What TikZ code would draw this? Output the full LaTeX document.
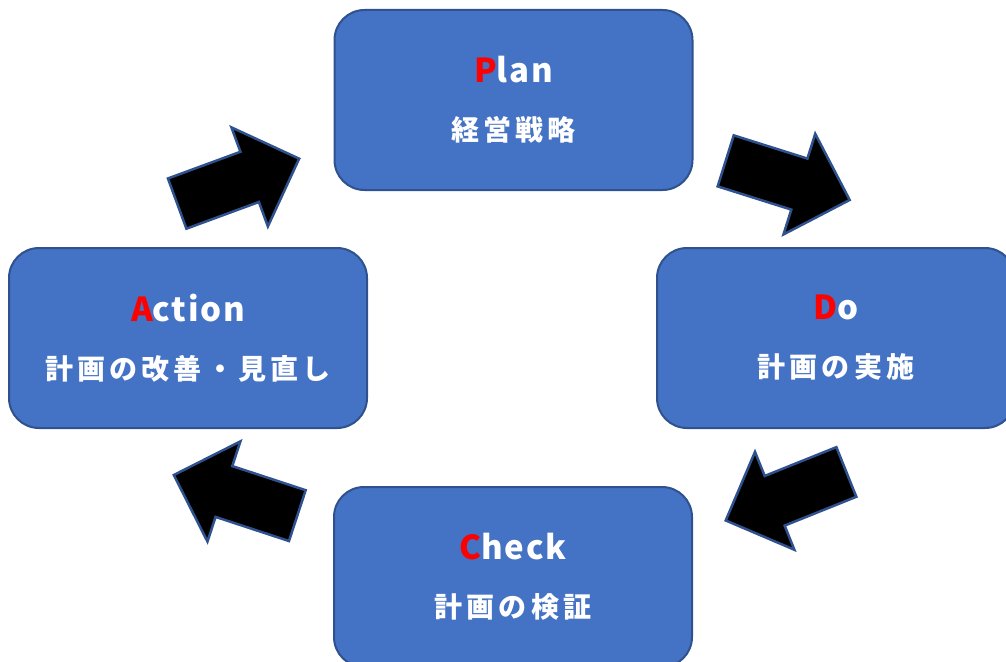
\documentclass[tikz,border=0pt]{standalone}
\usepackage{fontspec}
\usepackage{xcolor}
\usetikzlibrary{shapes.arrows}
\newfontfamily\jpfont[LetterSpace=15]{Noto Sans CJK JP}
\newfontfamily\latinfont[LetterSpace=5]{Noto Sans CJK JP}
\definecolor{boxblue}{HTML}{4472C4}
\definecolor{edgeblue}{HTML}{2F528F}
\definecolor{pdcared}{HTML}{FF0000}
\newcommand{\headword}[2]{{\latinfont\bfseries\fontsize{33}{34}\selectfont\textcolor{pdcared}{#1}#2}}

\begin{document}
\begin{tikzpicture}[x=1pt, y=-1pt,
    phase/.style={draw=edgeblue, line width=2pt, fill=boxblue, rounded corners=30pt,
      minimum width=358pt, minimum height=180pt, text=white, align=center,
      font=\jpfont\bfseries\fontsize{28}{34}\selectfont},
    turn/.style={single arrow, draw=edgeblue, line width=2.5pt, fill=black,
      inner sep=25.5pt, single arrow head extend=26pt, minimum height=130pt, anchor=tail}]
                \useasboundingbox (0,0) rectangle (1006,661);
                % Phase boxes
                \node[phase] (plan) at (513.5,100) {\headword{P}{lan}\\[24pt]経営戦略};
                \node[phase] (do) at (836,338) {\headword{D}{o}\\[24pt]計画の実施};
                \node[phase] (check) at (513,577) {\headword{C}{heck}\\[24pt]計画の検証};
                \node[phase] (action) at (188,338) {\headword{A}{ction}\\[24pt]計画の改善・見直し};

                % Cycle arrows
                \node[turn, rotate=20.2] (toplan) at (176,204) {};
                \node[turn, rotate=-17.5] (todo) at (724.5,160.5) {};
                \node[turn, rotate=201.9] (tocheck) at (847.5,471.5) {};
                \node[turn, rotate=161.8] (toaction) at (298.5,516) {};
\end{tikzpicture}
\end{document}
